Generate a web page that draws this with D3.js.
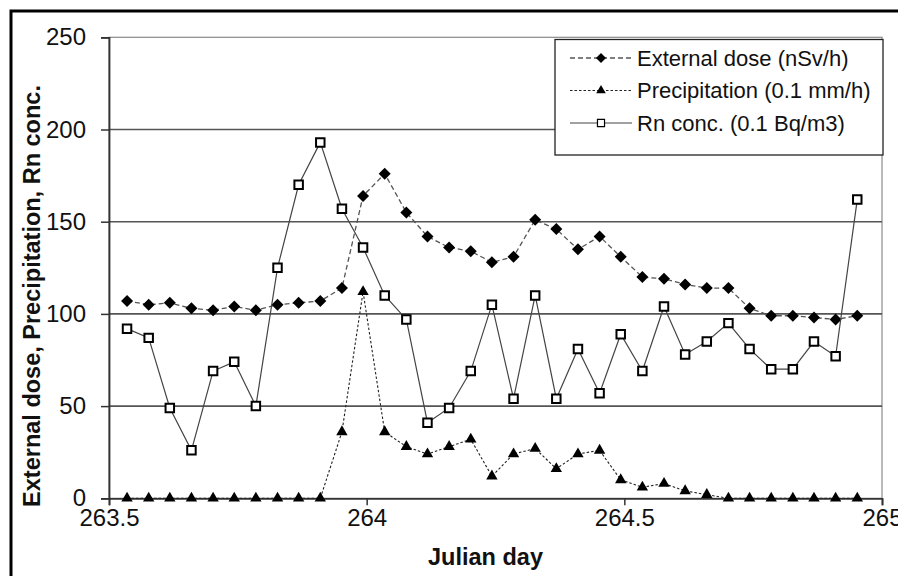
<!DOCTYPE html>
<html>
<head>
<meta charset="utf-8">
<script src="https://cdn.jsdelivr.net/npm/d3@7"></script>
<style>
  html, body { margin: 0; padding: 0; background: #fff; }
  svg { display: block; font-family: "Liberation Sans", Arial, sans-serif; }
</style>
</head>
<body>
<svg id="chart" width="898" height="576"></svg>
<script>
// Hourly observations (Julian day)
const days = [263.535, 263.577, 263.618, 263.660, 263.702, 263.743, 263.785, 263.827, 263.868, 263.910,
              263.952, 263.993, 264.035, 264.077, 264.118, 264.160, 264.202, 264.243, 264.285, 264.327,
              264.368, 264.410, 264.452, 264.493, 264.535, 264.577, 264.618, 264.660, 264.702, 264.743,
              264.785, 264.827, 264.868, 264.910, 264.952];

// External dose (nSv/h)
const externalDose = [107, 105, 106, 103, 102, 104, 102, 105, 106, 107,
                      114, 164, 176, 155, 142, 136, 134, 128, 131, 151,
                      146, 135, 142, 131, 120, 119, 116, 114, 114, 103,
                      99, 99, 98, 97, 99];

// Precipitation (0.1 mm/h)
const precipitation = [0, 0, 0, 0, 0, 0, 0, 0, 0, 0,
                       36, 112, 36, 28, 24, 28, 32, 12, 24, 27,
                       16, 24, 26, 10, 6, 8, 4, 2, 0, 0,
                       0, 0, 0, 0, 0];

// Rn concentration (0.1 Bq/m3)
const rnConc = [92, 87, 49, 26, 69, 74, 50, 125, 170, 193,
                157, 136, 110, 97, 41, 49, 69, 105, 54, 110,
                54, 81, 57, 89, 69, 104, 78, 85, 95, 81,
                70, 70, 85, 77, 162];

const seriesNames = ["External dose (nSv/h)", "Precipitation (0.1 mm/h)", "Rn conc. (0.1 Bq/m3)"];
const xTicks = [263.5, 264, 264.5, 265];
const xTickLabels = ["263.5", "264", "264.5", "265"];
const yTicks = [0, 50, 100, 150, 200, 250];
const xTitle = "Julian day";
const yTitle = "External dose, Precipitation, Rn conc.";

const svg = d3.select("#chart");
const plotLeft = 109, plotRight = 882, plotTop = 37.3, plotBottom = 498.3;

const x = d3.scaleLinear().domain([263.5, 265]).range([plotLeft, plotRight]);
const y = d3.scaleLinear().domain([0, 250]).range([plotBottom, plotTop]);

// outer frame
svg.append("rect")
  .attr("x", 11).attr("y", 11)
  .attr("width", 960).attr("height", 640)
  .attr("fill", "#fff").attr("stroke", "#000").attr("stroke-width", 3);

// plot area border
svg.append("rect")
  .attr("x", plotLeft).attr("y", plotTop)
  .attr("width", plotRight - plotLeft).attr("height", plotBottom - plotTop)
  .attr("fill", "none").attr("stroke", "#8a8a8a").attr("stroke-width", 1.2);

// horizontal gridlines
svg.append("g").selectAll("line")
  .data(yTicks.filter(d => d > 0 && d < 250))
  .join("line")
  .attr("x1", plotLeft).attr("x2", plotRight)
  .attr("y1", d => y(d)).attr("y2", d => y(d))
  .attr("stroke", "#555").attr("stroke-width", 1.6);

// axes
const yAxis = d3.axisLeft(y).tickValues(yTicks).tickSize(8).tickPadding(15).tickFormat(d3.format("d"));
const yG = svg.append("g").attr("transform", `translate(${plotLeft},0)`).call(yAxis);
const xAxis = d3.axisBottom(x).tickValues(xTicks).tickSize(7).tickPadding(4)
  .tickFormat((d, i) => xTickLabels[i]);
const xG = svg.append("g").attr("transform", `translate(0,${plotBottom})`).call(xAxis);

[yG, xG].forEach(g => {
  g.select(".domain").attr("stroke", "#333").attr("stroke-width", 1.8);
  g.selectAll(".tick line").attr("stroke", "#333").attr("stroke-width", 1.5);
  g.selectAll(".tick text")
    .attr("font-family", "'Liberation Sans', Arial, sans-serif")
    .attr("font-size", 24).attr("fill", "#111");
});

// axis titles
svg.append("text")
  .attr("x", (plotLeft + plotRight) / 2 - 10).attr("y", 565)
  .attr("text-anchor", "middle")
  .attr("font-size", 23.5).attr("font-weight", "bold").attr("fill", "#111")
  .text(xTitle);

svg.append("text")
  .attr("transform", "translate(40,296) rotate(-90)")
  .attr("text-anchor", "middle")
  .attr("font-size", 23.5).attr("font-weight", "bold").attr("fill", "#111")
  .text(yTitle);

// series
const series = [
  { name: seriesNames[0], values: externalDose, dash: "5,3", lineColor: "#555", lineWidth: 1.3,
    symbol: d3.symbolSquare, size: 72, rotate: 45, fill: "#000", stroke: "none", sw: 0 },
  { name: seriesNames[1], values: precipitation, dash: "2.5,2", lineColor: "#222", lineWidth: 1.1,
    symbol: d3.symbolTriangle, size: 56, rotate: 0, fill: "#000", stroke: "none", sw: 0 },
  { name: seriesNames[2], values: rnConc, dash: null, lineColor: "#444", lineWidth: 1.2,
    symbol: d3.symbolSquare, size: 72, rotate: 0, fill: "#fff", stroke: "#000", sw: 2 }
];

const line = d3.line().x(d => x(d[0])).y(d => y(d[1]));

series.forEach(s => {
  const pts = days.map((d, i) => [d, s.values[i]]);
  svg.append("path")
    .attr("d", line(pts))
    .attr("fill", "none")
    .attr("stroke", s.lineColor)
    .attr("stroke-width", s.lineWidth)
    .attr("stroke-dasharray", s.dash);
  svg.append("g").selectAll("path")
    .data(pts)
    .join("path")
    .attr("d", d3.symbol().type(s.symbol).size(s.size))
    .attr("transform", d => `translate(${x(d[0])},${y(d[1])}) rotate(${s.rotate})`)
    .attr("fill", s.fill)
    .attr("stroke", s.stroke)
    .attr("stroke-width", s.sw);
});

// legend
const lg = svg.append("g");
lg.append("rect")
  .attr("x", 555).attr("y", 39.5).attr("width", 328).attr("height", 115.5)
  .attr("fill", "#fff").attr("stroke", "#222").attr("stroke-width", 1.3);

const rowY = [58, 90.5, 123];
const legendSizes = [50, 40, 50];
series.forEach((s, i) => {
  const cy = rowY[i];
  lg.append("line")
    .attr("x1", 570).attr("x2", 632).attr("y1", cy).attr("y2", cy)
    .attr("stroke", s.lineColor).attr("stroke-width", s.lineWidth)
    .attr("stroke-dasharray", s.dash);
  lg.append("path")
    .attr("d", d3.symbol().type(s.symbol).size(legendSizes[i]))
    .attr("transform", `translate(601,${cy}) rotate(${s.rotate})`)
    .attr("fill", s.fill)
    .attr("stroke", s.stroke)
    .attr("stroke-width", s.sw ? 1.2 : 0);
  lg.append("text")
    .attr("x", 637).attr("y", cy)
    .attr("dy", "0.35em")
    .attr("font-size", 22).attr("fill", "#111")
    .text(s.name);
});
</script>
</body>
</html>
